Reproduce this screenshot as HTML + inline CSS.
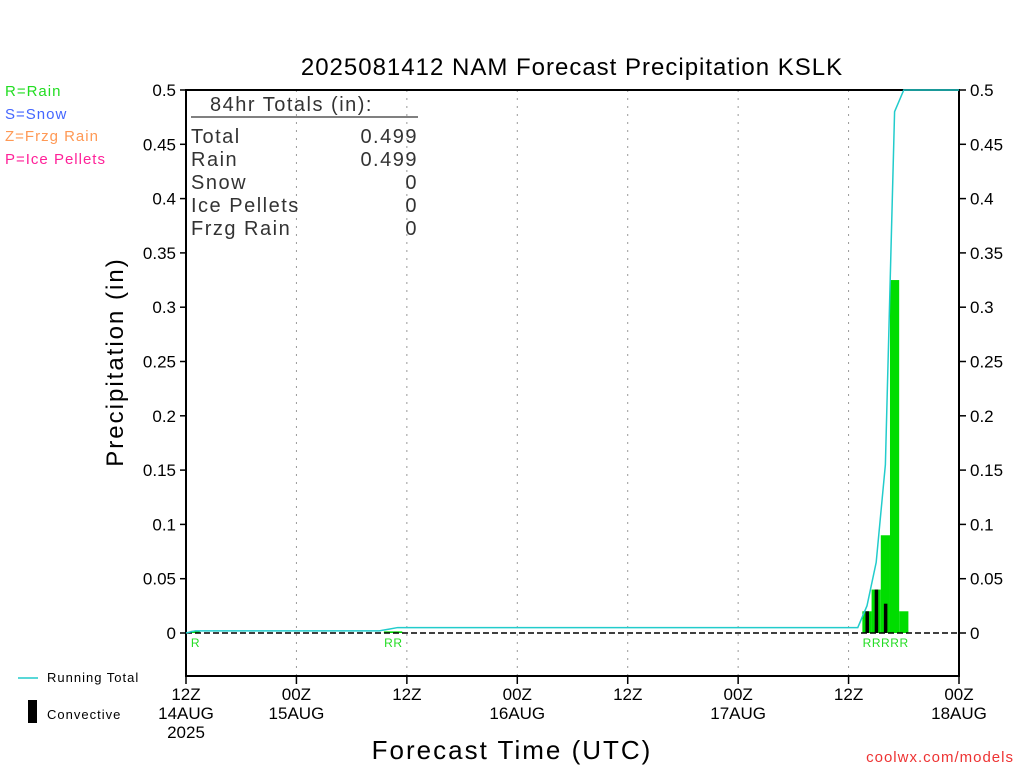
<!DOCTYPE html>
<html><head><meta charset="utf-8"><style>
body{margin:0;background:#fff;}
svg{display:block;font-family:"Liberation Sans",sans-serif;}
</style></head><body>
<svg id="chart" width="1024" height="768" viewBox="0 0 1024 768" xmlns="http://www.w3.org/2000/svg">
<rect width="1024" height="768" fill="#fff"/>
<text x="572" y="75" font-size="24" text-anchor="middle" fill="#000" letter-spacing="1">2025081412 NAM Forecast Precipitation KSLK</text>
<g font-size="15" letter-spacing="1">
<text x="5" y="96" fill="#22dd22">R=Rain</text>
<text x="5" y="119" fill="#4466ff">S=Snow</text>
<text x="5" y="141" fill="#ff9955">Z=Frzg Rain</text>
<text x="5" y="164" fill="#ff2299">P=Ice Pellets</text>
</g>
<g id="grid"></g>
<g id="bars"></g>
<rect x="186" y="90" width="773" height="586" fill="none" stroke="#000" stroke-width="2"/>
<g id="lines"></g>
<g id="axes"></g>
<g font-size="20" fill="#333" letter-spacing="1.5">
<text x="210" y="111">84hr Totals (in):</text>
<line x1="191" y1="117" x2="418" y2="117" stroke="#000" stroke-width="1"/>
<text x="191" y="143">Total</text><text x="418" y="143" text-anchor="end">0.499</text>
<text x="191" y="166">Rain</text><text x="418" y="166" text-anchor="end">0.499</text>
<text x="191" y="189">Snow</text><text x="418" y="189" text-anchor="end">0</text>
<text x="191" y="212">Ice Pellets</text><text x="418" y="212" text-anchor="end">0</text>
<text x="191" y="235">Frzg Rain</text><text x="418" y="235" text-anchor="end">0</text>
</g>
<text transform="translate(123,362) rotate(-90)" font-size="24" text-anchor="middle" letter-spacing="2">Precipitation (in)</text>
<text x="512" y="759" font-size="26" text-anchor="middle" letter-spacing="2">Forecast Time (UTC)</text>
<text x="1014" y="762" font-size="15" text-anchor="end" fill="#ee3333" letter-spacing="1">coolwx.com/models</text>
<g font-size="13" letter-spacing="1">
<line x1="18" y1="678" x2="38" y2="678" stroke="#22cccc" stroke-width="1.5"/>
<text x="47" y="682">Running Total</text>
<rect x="28" y="700" width="9" height="23" fill="#000"/>
<text x="47" y="719">Convective</text>
</g>
</svg>
<script>
const hours=[1,22,23,74,75,76,77,78];
const precip=[0.002,0.0015,0.0015,0.02,0.04,0.09,0.325,0.02];
const convHours=[74,75,76];
const convective=[0.02,0.04,0.027];
const yTicks=[0,0.05,0.1,0.15,0.2,0.25,0.3,0.35,0.4,0.45,0.5];
const yTickLabels=["0","0.05","0.1","0.15","0.2","0.25","0.3","0.35","0.4","0.45","0.5"];
const xTickHours=[0,12,24,36,48,60,72,84];
const xTickLabels=[["12Z","14AUG","2025"],["00Z","15AUG"],["12Z"],["00Z","16AUG"],["12Z"],["00Z","17AUG"],["12Z"],["00Z","18AUG"]];
const ptypes=["R","R","R","R","R","R","R","R"];
const NS="http://www.w3.org/2000/svg";
const X0=186,X1=959,Y0=633,Y1=90;
function xs(h){return X0+(X1-X0)*h/84;}
function ys(v){return Y0-(Y0-Y1)*v/0.5;}
function mk(t,a,p){const e=document.createElementNS(NS,t);for(const k in a)e.setAttribute(k,a[k]);p.appendChild(e);return e;}
const grid=document.getElementById('grid'),bars=document.getElementById('bars'),lines=document.getElementById('lines'),axes=document.getElementById('axes');
xTickHours.forEach((h,i)=>{
 if(i>0&&i<xTickHours.length-1){const g=mk('line',{x1:xs(h),x2:xs(h),y1:90,y2:676,stroke:'#999','stroke-dasharray':'2,6'},grid);
 
 }
 const t=mk('line',{x1:xs(h),x2:xs(h),y1:676,y2:684,stroke:'#000','stroke-width':1.5},axes);
 
 
 xTickLabels[i].forEach((s,j)=>{const tx=mk('text',{x:xs(h),y:700+j*19,'font-size':17,'text-anchor':'middle'},axes);tx.textContent=s;
 
 });
});
yTicks.forEach((v,i)=>{
 const y=ys(v);
 mk('line',{x1:180,x2:186,y1:y,y2:y,stroke:'#000','stroke-width':1.5},axes);
 mk('line',{x1:959,x2:966,y1:y,y2:y,stroke:'#000','stroke-width':1.5},axes);
 const l=mk('text',{x:176,y:y+6,'font-size':17,'text-anchor':'end'},axes);l.textContent=yTickLabels[i];
 
 
 const r=mk('text',{x:970,y:y+6,'font-size':17},axes);r.textContent=yTickLabels[i];
 
 
});
const w=(X1-X0)/84;
hours.forEach((h,i)=>{
 const b=mk('rect',{x:xs(h)-w/2,y:ys(precip[i]),width:w,height:Math.max(Y0-ys(precip[i]),1.5),fill:'#00dd00'},bars);
 
 
 const t=mk('text',{x:xs(h),y:647,'font-size':12,'text-anchor':'middle',fill:'#22dd22'},bars);t.textContent=ptypes[i];
 
 
});
convHours.forEach((h,i)=>{
 const b=mk('rect',{x:xs(h)-1.5,y:ys(convective[i]),width:3.5,height:Y0-ys(convective[i]),fill:'#000'},bars);
 
 
});
const zl=mk('line',{x1:X0,x2:X1,y1:Y0,y2:Y0,stroke:'#000','stroke-width':1.5,'stroke-dasharray':'6,3'},lines);


let pts=[],cum=0;
hours.forEach((h,i)=>{pts.push([xs(h-1),ys(cum)]);cum+=precip[i];pts.push([xs(h),ys(cum)]);});
pts.push([xs(84),ys(cum)]);
const p=mk('polyline',{points:pts.map(q=>q.join(',')).join(' '),fill:'none',stroke:'#22cccc','stroke-width':1.5},lines);


</script>
</body></html>
